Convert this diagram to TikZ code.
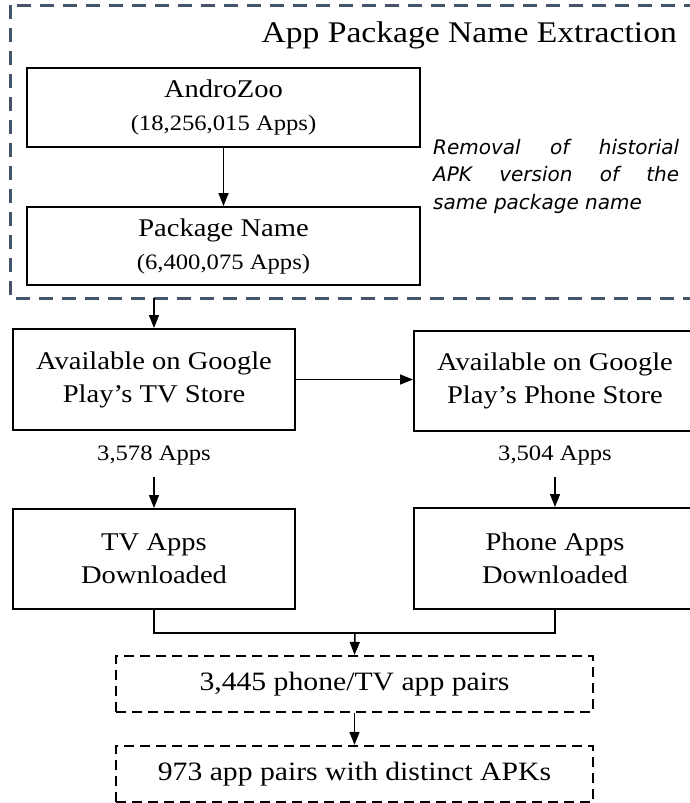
\documentclass[tikz,border=0pt]{standalone}
\usepackage{fontspec}
\setmainfont{Liberation Serif}[FakeStretch=1.12]
\newfontfamily\notefont{DejaVu Sans}
\usetikzlibrary{arrows.meta}
\definecolor{groupc}{HTML}{44546A}
\begin{document}
\begin{tikzpicture}[x=1pt,y=1pt,
  box/.style={draw=black, line width=2pt, align=center, inner sep=0pt, font=\fontsize{25.5}{33}\selectfont},
  dbox/.style={draw=black, line width=2.2pt, dash pattern=on 10pt off 6pt, inner sep=0pt, font=\fontsize{26.5}{32}\selectfont},
  arr/.style={-{Triangle[length=13pt,width=10pt]}, line width=1.5pt},
  conn/.style={line width=1.5pt},
  lbl/.style={font=\fontsize{22}{26}\selectfont, inner sep=0pt}]
\useasboundingbox (0,0) rectangle (689,-803);
% group box
\draw[groupc, line width=3pt, dash pattern=on 14pt off 9pt] (10,-5) rectangle (705,-298);
\node[anchor=east, inner sep=0pt, font=\fontsize{30}{36}\selectfont] (title) at (677,-35) {App Package Name Extraction};
\node[box, minimum width=393pt, minimum height=79pt] (andro) at (223.5,-107.5)
  {AndroZoo\\{\fontsize{22}{31}\selectfont (18,256,015 Apps)}};
\node[box, minimum width=393pt, minimum height=78pt] (pkg) at (223.5,-246)
  {Package Name\\{\fontsize{22}{31}\selectfont (6,400,075 Apps)}};
\draw[arr] (andro.south) -- (pkg.north);
\node[anchor=west, inner sep=0pt, align=left, font=\notefont\itshape\fontsize{20}{27.5}\selectfont] (note) at (433,-176)
  {\makebox[246pt][s]{Removal of historial}\\\makebox[246pt][s]{APK version of the}\\same package name};
% stores
\node[box, minimum width=282pt, minimum height=101pt] (tvstore) at (154,-379.5)
  {Available on Google\\Play’s TV Store};
\node[box, minimum width=282pt, minimum height=100pt] (phonestore) at (555,-381)
  {Available on Google\\Play’s Phone Store};
\coordinate (gb) at (154,-298);
\draw[arr] (gb) -- (tvstore.north);
\draw[arr] (tvstore.east) -- (tvstore.east -| phonestore.west);
\node[lbl] (l1) at (154,-456) {3,578 Apps};
\node[lbl] (l2) at (555,-456) {3,504 Apps};
% downloaded
\node[box, minimum width=282pt, minimum height=100pt] (tvdl) at (154,-559)
  {TV Apps\\Downloaded};
\node[box, minimum width=282pt, minimum height=101pt] (phonedl) at (555,-558.5)
  {Phone Apps\\Downloaded};
\coordinate (a1) at (154,-477);
\coordinate (a2) at (555,-477);
\draw[arr] (a1) -- (tvdl.north);
\draw[arr] (a2) -- (phonedl.north);
% pairs
\node[dbox, minimum width=477pt, minimum height=56pt] (pairs) at (354.5,-684) {3,445 phone/TV app pairs};
\node[dbox, minimum width=477pt, minimum height=56pt] (distinct) at (354.5,-774) {973 app pairs with distinct APKs};
\coordinate (j) at (355,-633);
\draw[conn] (tvdl.south) -- (tvdl.south |- j) -- (phonedl.south |- j) -- (phonedl.south);
\draw[arr] (j) -- (pairs.north);
\draw[arr] (pairs.south) -- (distinct.north);
\end{tikzpicture}
\end{document}
